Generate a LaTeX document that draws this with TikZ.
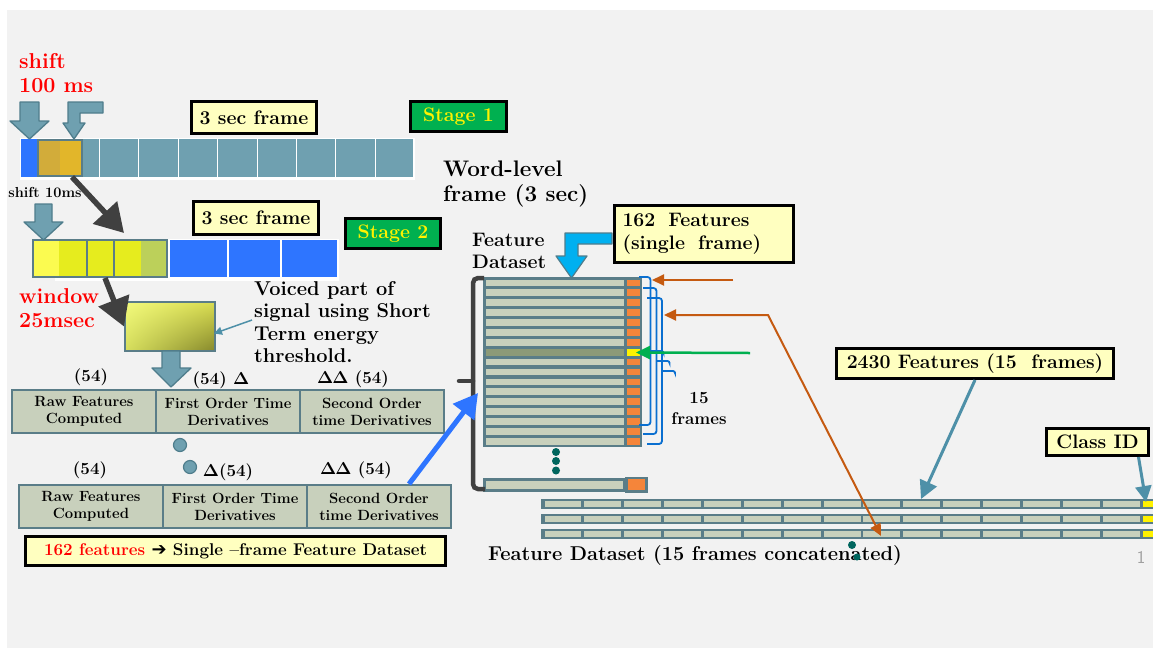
\documentclass[tikz,border=0pt]{standalone}
\usepackage{amsmath}
\usepackage[no-math]{fontspec}
\newfontfamily\djv{DejaVu Sans}
\usetikzlibrary{arrows.meta,calc,shadings}
\definecolor{bgray}{HTML}{F2F2F2}
\definecolor{cellteal}{HTML}{6FA0B0}
\definecolor{tealedge}{HTML}{4F7D8C}
\definecolor{sage}{HTML}{C8D0BC}
\definecolor{sageedge}{HTML}{5A7D88}
\definecolor{lyellow}{HTML}{FFFFC0}
\definecolor{sgreen}{HTML}{00B050}
\definecolor{vblue}{HTML}{2E75FF}
\definecolor{darkarr}{HTML}{404040}
\definecolor{orng}{HTML}{F5853A}
\definecolor{rust}{HTML}{C55A11}
\definecolor{bracecol}{HTML}{0A6FD0}
\definecolor{cyanarr}{HTML}{00B0F0}
\definecolor{dotteal}{HTML}{00665E}
\definecolor{linkteal}{HTML}{4E90A8}
\definecolor{darkrow}{HTML}{8C9A78}
\definecolor{gold1}{HTML}{D2AC3A}
\definecolor{gold2}{HTML}{E2B62A}
\definecolor{yel1}{HTML}{FBFB50}
\definecolor{yel2}{HTML}{E6EC1E}
\definecolor{yel3}{HTML}{BCD05A}
\definecolor{gUL}{HTML}{F2FA7C}
\definecolor{gUR}{HTML}{D8DC50}
\definecolor{gLL}{HTML}{D6DE5C}
\definecolor{gLR}{HTML}{86882C}
\definecolor{numgray}{HTML}{A0A0A0}
\tikzset{
  fa/.style={font=\bfseries\fontsize{21.5}{24}\selectfont},
  fb/.style={font=\bfseries\fontsize{19.5}{22.5}\selectfont},
  fc/.style={font=\bfseries\fontsize{17}{20}\selectfont},
  fd/.style={font=\bfseries\fontsize{14.8}{17}\selectfont},
  plain/.style={inner sep=0pt, text=black},
  callout/.style={draw=black, line width=3pt, fill=lyellow, inner sep=0pt, fb},
  stagebox/.style={draw=black, line width=3pt, fill=sgreen, text=yellow, inner sep=0pt, fb},
  blockarrow/.style={fill=cellteal, draw=tealedge, line width=1.3pt, line join=round},
  cellbox/.style={draw=sageedge, line width=2pt, fill=sage, minimum width=144pt, minimum height=43pt, inner sep=0pt, align=center, fd},
  heavy/.style={line width=5.5pt, draw=darkarr, -{Triangle[length=28pt,width=32pt]}},
  dotc/.style={fill=dotteal},
}
\newcommand{\dlt}{$\boldsymbol{\Delta}$}
\begin{document}
\begin{tikzpicture}[x=1pt,y=-1pt]
\useasboundingbox (0,0) rectangle (1153,651);
\fill[white] (0,0) rectangle (1153,651);
\fill[bgray] (7,10) rectangle (1153,648);

% ---------- Stage 1 ----------
\node[plain, fa, text=red, anchor=north west, align=left] (shift1) at (19,53) {shift\\100 ms};
\fill[white] (20,137.5) rectangle (415,179.5);
\fill[vblue] (21,139) rectangle (38,177);
\foreach \a/\b in {82/98.5, 99.5/137.5, 138.5/177.5, 178.5/216.5, 217.5/256.5, 257.5/295.5, 296.5/335, 336/374.5, 375.5/413}
  \fill[cellteal] (\a,139) rectangle (\b,177);
\fill[gold1] (38,140) rectangle (60,176);
\fill[gold2] (60,140) rectangle (82,176);
\node[draw=sageedge, line width=2pt, minimum width=44pt, minimum height=36pt, inner sep=0pt] (gold) at (60,158) {};
\draw[blockarrow] (20,102) -- (39,102) -- (39,121) -- (49,121) -- (29.5,139) -- (10,121) -- (20,121) -- cycle;
\draw[blockarrow] (103,102) -- (103,113) -- (80,113) -- (80,123) -- (85,123) -- (74,139) -- (63,123) -- (68,123) -- (68,102) -- cycle;
\node[callout, minimum width=125pt, minimum height=32pt] (frame1) at (254,117.5) {3 sec frame};
\node[stagebox, minimum width=96pt, minimum height=30pt] (stage1) at (458.5,116.5) {Stage 1};
\node[plain, font=\bfseries\fontsize{22.5}{25}\selectfont, anchor=north west, align=left] (word) at (443,161) {Word-level\\frame (3 sec)};
\node[plain, font=\bfseries\fontsize{14.5}{17}\selectfont] (shift2) at (45,193) {shift 10ms};

% ---------- Stage 2 ----------
\fill[white] (55,239) rectangle (339,280.5);
\fill[yel1] (33,240) rectangle (59,277);
\fill[yel2] (59,240) rectangle (141,277);
\fill[yel3] (141,240) rectangle (167,277);
\draw[sageedge, line width=2pt] (87,240) -- (87,277) (114,240) -- (114,277);
\node[draw=sageedge, line width=2pt, minimum width=134pt, minimum height=37pt, inner sep=0pt] (ybar) at (100,258.5) {};
\fill[vblue] (170,240) rectangle (227,277);
\fill[vblue] (229,240) rectangle (280,277);
\fill[vblue] (282,240) rectangle (337,277);
\draw[blockarrow] (35,204) -- (52,204) -- (52,222) -- (63,222) -- (43.5,240) -- (24,222) -- (35,222) -- cycle;
\node[callout, minimum width=125pt, minimum height=33pt] (frame2) at (256,218) {3 sec frame};
\node[stagebox, minimum width=95pt, minimum height=30pt] (stage2) at (393,233.5) {Stage 2};
\draw[heavy] ($(gold.south)+(12,0)$) -- ($(ybar.north)+(24,-6)$);
\node[plain, fa, text=red, anchor=north west, align=left] (win) at (19,288) {window\\25msec};

% gradient box
\shade[upper left=gUL, upper right=gUR, lower left=gLL, lower right=gLR] (125,302) rectangle (215,351);
\node[draw=sageedge, line width=2pt, minimum width=90pt, minimum height=49pt, inner sep=0pt] (gbox) at (170,326.5) {};
\draw[heavy] ($(ybar.south)+(5,0)$) -- (gbox.west);
\node[plain, font=\bfseries\fontsize{20}{22.5}\selectfont, anchor=north west, align=left] (voiced) at (254,281) {Voiced part of\\signal using Short\\Term energy\\threshold.};
\draw[linkteal, line width=1.5pt, -{Triangle[length=8pt,width=8pt]}] ($(voiced.west)+(-2,-2)$) -- ($(gbox.east)+(-2,7)$);
\draw[blockarrow] (162,351) -- (180,351) -- (180,368) -- (191,368) -- (171,387) -- (152,368) -- (162,368) -- cycle;

% ---------- tables ----------
\node[cellbox] (r1) at (84,411.5) {Raw Features\\Computed};
\node[cellbox] (d1) at (228,411.5) {First Order Time\\Derivatives};
\node[cellbox] (s1) at (372,411.5) {Second Order\\time Derivatives};
\node[plain, fc] (l1a) at (91,377) {(54)};
\node[plain, fc] (l1b) at (221,380) {(54) \dlt};
\node[plain, fc] (l1c) at (353,379) {\dlt\kern-1pt\dlt\ (54)};
\draw[fill=cellteal, draw=tealedge, line width=1.2pt] (180,445) circle (6.5);
\draw[fill=cellteal, draw=tealedge, line width=1.2pt] (190,467) circle (6.5);
\node[plain, fc] (l2a) at (90,470) {(54)};
\node[plain, fc] (l2b) at (228,472) {\dlt(54)};
\node[plain, fc] (l2c) at (356,470) {\dlt\kern-1pt\dlt\ (54)};
\node[cellbox] (r2) at (91,506.5) {Raw Features\\Computed};
\node[cellbox] (d2) at (235,506.5) {First Order Time\\Derivatives};
\node[cellbox] (s2) at (379,506.5) {Second Order\\time Derivatives};
\node[callout, minimum width=420pt, minimum height=29pt, fc] (sum) at (235.5,551) {\textcolor{red}{162 features} {\djv\bfseries\fontsize{18}{18}\selectfont ➔} Single --frame Feature Dataset};

% ---------- feature dataset ----------
\node[plain, fb, anchor=north west, align=left] (fdlab) at (472,233) {Feature\\Dataset};
\fill[sageedge] (483,276.5) rectangle (642,447);
\foreach \i in {0,...,16} {
  \pgfmathsetmacro\yy{278+9.9*\i}
  \fill[sage] (486,\yy+1.5) rectangle (623.5,\yy+8.2);
  \fill[orng] (626.5,\yy+1.5) rectangle (640,\yy+8.2);
}
\pgfmathsetmacro\yd{278+9.9*7}
\fill[darkrow] (486,\yd+1.5) rectangle (623.5,\yd+8.2);
\fill[yellow] (626.5,\yd+1.5) rectangle (640,\yd+8.2);
\fill[sageedge] (483,477.5) rectangle (626,492);
\fill[sage] (486,480.5) rectangle (623,489);
\fill[sageedge] (625,476.5) rectangle (647.5,492.5);
\fill[orng] (628,479) rectangle (645,490);
\draw[darkarr, line width=4.5pt, rounded corners=5pt] (484,278) -- (473,278) -- (473,489) -- (485,489);
\draw[darkarr, line width=4.5pt, line cap=round] (473,381) -- (459,381);
\coordinate (brk) at (478,393);
\draw[vblue, line width=5pt, -{Triangle[length=24pt,width=26pt]}] ($(s2.north)+(30,0)$) -- (brk);
\fill[dotc] (556,452) circle (4);
\fill[dotc] (556,461) circle (4);
\fill[dotc] (556,470.5) circle (4);

\node[callout, text width=163pt, align=left, inner sep=8pt, minimum height=53pt] (f162) at (704,234) {162~ Features\\(single~ frame)};
\draw[fill=cyanarr, draw=tealedge, line width=1.2pt, line join=round] (612,233) -- (612,244) -- (578,244) -- (578,256) -- (587,256) -- (571.5,278) -- (556,256) -- (565,256) -- (565,233) -- cycle;

% braces
\foreach \xs/\xr/\yt/\yb in {639/650.5/277/425, 643/656.5/288/434, 647/662/298/444} {
  \pgfmathsetmacro\ym{(\yt+\yb)/2}
  \draw[bracecol, line width=1.8pt, rounded corners=3pt] (\xs,\yt) -- (\xr,\yt) -- (\xr,\yb) -- (\xs,\yb);
  \draw[bracecol, line width=1.8pt, rounded corners=2pt] (\xr,\ym) -- (\xr+13,\ym) -- (\xr+13,\ym+1);
}
\node[plain, font=\bfseries\fontsize{17}{21}\selectfont, align=center] (fr15) at (699,408) {15\\frames};

% concatenated rows
\foreach \yr in {499,514,529} {
  \fill[sageedge] (541,\yr) rectangle (1153,\yr+10);
  \foreach \j in {0,...,14} {
    \pgfmathsetmacro\xa{543+39.87*\j}
    \fill[sage] (\xa+1.5,\yr+2) rectangle (\xa+38.4,\yr+8);
  }
  \fill[yellow] (1142.5,\yr+2) rectangle (1153,\yr+8);
}

% orange / green arrows
\coordinate (oa1) at (733,280);
\coordinate (ob1) at (652,280);
\draw[rust, line width=2pt, -{Triangle[length=12pt,width=11pt]}] (oa1) -- (ob1);
\coordinate (oa2) at (664,315);
\coordinate (ocorner) at (768,315);
\coordinate (ob2) at (881,536);
\draw[rust, line width=2pt, {Triangle[length=12pt,width=11pt]}-{Triangle[length=12pt,width=11pt]}] (oa2) -- (ocorner) -- (ob2);
\coordinate (ga) at (750,353);
\coordinate (gb) at (636,352.5);
\draw[sgreen, line width=2.5pt, -{Triangle[length=14pt,width=13pt]}] (ga) -- (gb);

\node[callout, minimum width=277pt, minimum height=30pt] (c2430) at (975,363.5) {2430 Features (15~ frames)};
\coordinate (row1a) at (921,499);
\draw[linkteal, line width=3pt, -{Triangle[length=18pt,width=18pt]}] (c2430.south) -- (row1a);
\node[callout, minimum width=102pt, minimum height=27pt] (cid) at (1097.5,442) {Class ID};
\coordinate (row1b) at (1146,502);
\draw[linkteal, line width=3pt, -{Triangle[length=16pt,width=16pt]}] ($(cid.south)+(41,0)$) -- (row1b);

\node[plain, font=\bfseries\fontsize{20}{22}\selectfont] (fdcat) at (695,555) {Feature Dataset (15 frames concatenated)};
\fill[dotc] (852,545) circle (4);
\fill[dotc] (857,557) circle (3.5);
\node[plain, text=numgray, font=\sffamily\fontsize{18}{20}\selectfont] (pnum) at (1141,557) {1};
\end{tikzpicture}
\end{document}
